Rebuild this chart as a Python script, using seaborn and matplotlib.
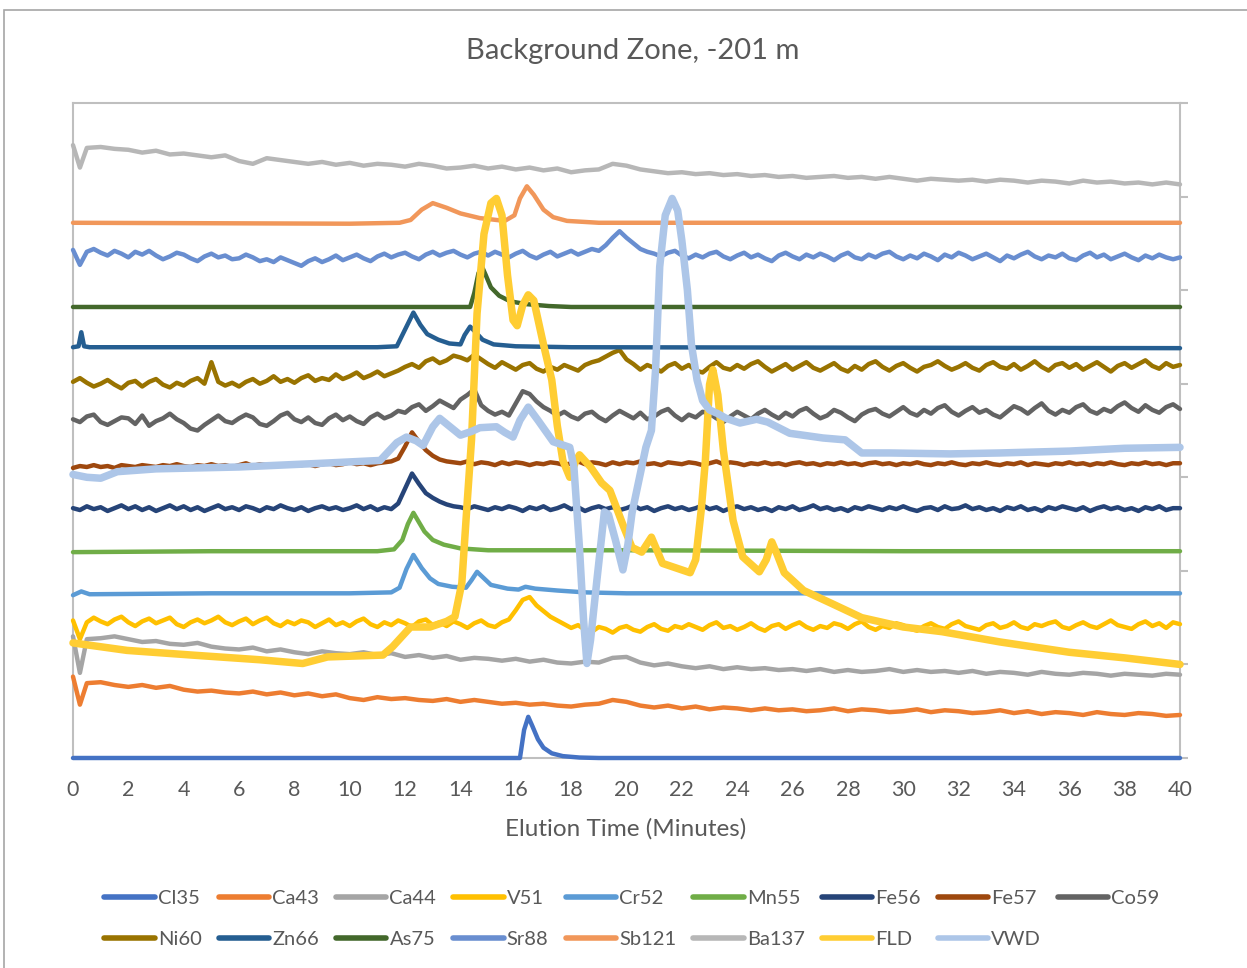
import numpy as np
import pandas as pd
import matplotlib
matplotlib.use("Agg")
import matplotlib.pyplot as plt
from matplotlib.lines import Line2D
from matplotlib.patches import Rectangle
import seaborn as sns

# ---------------------------------------------------------------------------
# Elution time grids (minutes)
# ---------------------------------------------------------------------------
T_Q = np.arange(0, 40.001, 0.25)                                  # 161 samples
T_H = np.concatenate([[0.0, 0.25], np.arange(0.5, 40.001, 0.5)])  # 82 samples

# ---------------------------------------------------------------------------
# Stacked detector signals (offset units)
# ---------------------------------------------------------------------------
CL35_T = [0, 16.15, 16.3, 16.45, 16.6, 16.8, 17.0, 17.3, 17.7, 18.3, 19.0, 40]
CL35 = [0, 0, 0.30, 0.44, 0.34, 0.20, 0.11, 0.05, 0.02, 0.005, 0, 0]

CA43 = [0.87, 0.57, 0.80,
        0.81, 0.78, 0.76, 0.78, 0.75, 0.77, 0.73, 0.71, 0.72, 0.70,
        0.69, 0.71, 0.68, 0.70, 0.67, 0.69, 0.66, 0.68, 0.64, 0.62,
        0.65, 0.63, 0.64, 0.62, 0.61, 0.63, 0.60, 0.62, 0.60, 0.58,
        0.59, 0.57, 0.58, 0.56, 0.55, 0.57, 0.58, 0.62, 0.60, 0.56,
        0.54, 0.56, 0.53, 0.55, 0.52, 0.54, 0.53, 0.51, 0.53, 0.51,
        0.52, 0.50, 0.51, 0.53, 0.50, 0.52, 0.51, 0.49, 0.50, 0.52,
        0.49, 0.51, 0.50, 0.48, 0.49, 0.51, 0.48, 0.50, 0.47, 0.49,
        0.48, 0.46, 0.49, 0.47, 0.46, 0.48, 0.47, 0.45, 0.46]

CA44 = [1.30, 0.91, 1.27,
        1.28, 1.30, 1.27, 1.24, 1.25, 1.22, 1.21, 1.23, 1.19, 1.17,
        1.16, 1.18, 1.14, 1.16, 1.13, 1.11, 1.14, 1.12, 1.11, 1.13,
        1.10, 1.12, 1.08, 1.10, 1.07, 1.09, 1.05, 1.07, 1.06, 1.04,
        1.06, 1.03, 1.05, 1.02, 1.01, 1.03, 1.02, 1.07, 1.08, 1.02,
        0.99, 1.01, 0.98, 0.96, 0.98, 0.95, 0.97, 0.95, 0.96, 0.94,
        0.95, 0.93, 0.95, 0.92, 0.94, 0.92, 0.93, 0.95, 0.92, 0.94,
        0.92, 0.93, 0.91, 0.93, 0.90, 0.92, 0.91, 0.89, 0.92, 0.90,
        0.89, 0.91, 0.90, 0.88, 0.90, 0.89, 0.88, 0.90, 0.89]

V51 = [1.47, 1.27, 1.45, 1.50, 1.46, 1.43, 1.48, 1.51, 1.45, 1.41, 1.46, 1.49,
       1.44, 1.47, 1.50, 1.43, 1.40, 1.45, 1.48, 1.44, 1.47, 1.51, 1.45, 1.42,
       1.46, 1.49, 1.43, 1.47, 1.50, 1.44, 1.41, 1.46, 1.43, 1.47, 1.45, 1.40,
       1.44, 1.48, 1.42, 1.45, 1.41, 1.46, 1.49, 1.43, 1.40, 1.45, 1.42, 1.47,
       1.44, 1.40, 1.46, 1.48, 1.42, 1.45, 1.41, 1.46, 1.43, 1.39, 1.44, 1.47,
       1.42, 1.40, 1.45, 1.48, 1.58, 1.69, 1.72, 1.63, 1.57, 1.51, 1.47, 1.43,
       1.39, 1.42, 1.37, 1.35, 1.40, 1.38, 1.34, 1.39, 1.41, 1.37, 1.35, 1.40,
       1.43, 1.38, 1.36, 1.41, 1.39, 1.43, 1.40, 1.37, 1.42, 1.45, 1.39, 1.41,
       1.37, 1.40, 1.44, 1.39, 1.36, 1.41, 1.43, 1.38, 1.42, 1.45, 1.40, 1.37,
       1.41, 1.39, 1.44, 1.42, 1.38, 1.43, 1.46, 1.40, 1.37, 1.41, 1.39, 1.44,
       1.42, 1.38, 1.36, 1.41, 1.44, 1.40, 1.38, 1.43, 1.46, 1.41, 1.39, 1.37,
       1.42, 1.44, 1.39, 1.41, 1.45, 1.40, 1.38, 1.43, 1.41, 1.44, 1.46, 1.40,
       1.38, 1.42, 1.45, 1.41, 1.39, 1.43, 1.47, 1.42, 1.40, 1.38, 1.43, 1.46,
       1.41, 1.44, 1.39, 1.45, 1.43]

CR52_T = [0, 0.3, 0.6, 5, 10, 11.5, 11.8, 12.05, 12.3, 12.6, 12.9, 13.2, 13.7,
          14.2, 14.4, 14.6, 14.85, 15.1, 15.7, 16.1, 16.35, 16.7, 17.5, 18.5,
          20, 30, 40]
CR52 = [1.74, 1.78, 1.75, 1.76, 1.76, 1.77, 1.82, 2.02, 2.17, 2.03, 1.92, 1.86,
        1.83, 1.82, 1.90, 1.99, 1.92, 1.85, 1.81, 1.80, 1.83, 1.81, 1.79, 1.77,
        1.76, 1.76, 1.76]

MN55_T = [0, 5, 11, 11.6, 11.9, 12.1, 12.3, 12.5, 12.7, 13.0, 13.4, 14.0, 15,
          20, 30, 40]
MN55 = [2.20, 2.21, 2.21, 2.23, 2.33, 2.50, 2.62, 2.52, 2.42, 2.33, 2.28, 2.24,
        2.22, 2.22, 2.21, 2.21]

FE56 = [2.67, 2.65, 2.69, 2.66, 2.68, 2.64, 2.67, 2.70, 2.66, 2.69, 2.65, 2.68,
        2.64, 2.67, 2.70, 2.66, 2.69, 2.65, 2.68, 2.64, 2.67, 2.70, 2.66, 2.68,
        2.65, 2.69, 2.67, 2.64, 2.68, 2.66, 2.70, 2.67, 2.65, 2.68, 2.64, 2.67,
        2.69, 2.66, 2.68, 2.65, 2.67, 2.70, 2.66, 2.69, 2.65, 2.68, 2.66, 2.72,
        2.88, 3.04, 2.93, 2.83, 2.78, 2.74, 2.71, 2.69, 2.68, 2.66, 2.69, 2.67,
        2.65, 2.68, 2.66, 2.69, 2.67, 2.64, 2.68, 2.66, 2.69, 2.65, 2.67, 2.70,
        2.66, 2.68, 2.64, 2.67, 2.69, 2.66, 2.68, 2.65, 2.67, 2.70, 2.66, 2.68,
        2.64, 2.67, 2.69, 2.66, 2.68, 2.65, 2.67, 2.70, 2.66, 2.68, 2.64, 2.67,
        2.69, 2.66, 2.68, 2.65, 2.67, 2.64, 2.68, 2.66, 2.69, 2.65, 2.67, 2.70,
        2.66, 2.68, 2.65, 2.67, 2.64, 2.68, 2.66, 2.69, 2.67, 2.65, 2.68, 2.66,
        2.69, 2.66, 2.64, 2.67, 2.68, 2.65, 2.69, 2.66, 2.67, 2.70, 2.66, 2.68,
        2.65, 2.67, 2.64, 2.68, 2.66, 2.69, 2.65, 2.67, 2.64, 2.68, 2.66, 2.69,
        2.67, 2.65, 2.68, 2.64, 2.67, 2.69, 2.66, 2.68, 2.65, 2.67, 2.64, 2.68,
        2.66, 2.69, 2.65, 2.67, 2.67]

FE57 = [3.10, 3.12, 3.11, 3.13, 3.11, 3.12, 3.10, 3.13, 3.12, 3.11, 3.13, 3.12,
        3.11, 3.13, 3.12, 3.14, 3.12, 3.11, 3.13, 3.12, 3.14, 3.12, 3.13, 3.11,
        3.13, 3.15, 3.12, 3.14, 3.13, 3.12, 3.14, 3.13, 3.15, 3.13, 3.14, 3.12,
        3.14, 3.15, 3.13, 3.14, 3.16, 3.14, 3.15, 3.13, 3.15, 3.16, 3.17, 3.20,
        3.33, 3.48, 3.38, 3.29, 3.23, 3.19, 3.17, 3.16, 3.15, 3.17, 3.14, 3.16,
        3.15, 3.13, 3.16, 3.14, 3.16, 3.15, 3.13, 3.15, 3.14, 3.16, 3.15, 3.13,
        3.15, 3.17, 3.14, 3.16, 3.15, 3.13, 3.16, 3.14, 3.16, 3.15, 3.17, 3.14,
        3.15, 3.13, 3.16, 3.15, 3.14, 3.16, 3.15, 3.13, 3.15, 3.17, 3.14, 3.16,
        3.15, 3.13, 3.15, 3.14, 3.16, 3.14, 3.15, 3.13, 3.15, 3.16, 3.14, 3.15,
        3.13, 3.15, 3.14, 3.16, 3.14, 3.15, 3.13, 3.15, 3.16, 3.14, 3.15, 3.13,
        3.15, 3.14, 3.16, 3.14, 3.13, 3.15, 3.14, 3.16, 3.14, 3.13, 3.15, 3.14,
        3.16, 3.14, 3.13, 3.15, 3.14, 3.16, 3.13, 3.15, 3.14, 3.13, 3.15, 3.14,
        3.16, 3.14, 3.15, 3.13, 3.15, 3.14, 3.16, 3.14, 3.13, 3.15, 3.14, 3.16,
        3.14, 3.15, 3.13, 3.15, 3.15]

CO59 = [3.62, 3.59, 3.65, 3.67, 3.59, 3.56, 3.60, 3.64, 3.63, 3.57, 3.66, 3.55,
        3.60, 3.63, 3.68, 3.62, 3.58, 3.52, 3.50, 3.56, 3.61, 3.66, 3.60, 3.58,
        3.63, 3.67, 3.64, 3.57, 3.55, 3.60, 3.66, 3.69, 3.62, 3.59, 3.64, 3.58,
        3.56, 3.63, 3.67, 3.61, 3.65, 3.60, 3.57, 3.64, 3.68, 3.63, 3.66, 3.71,
        3.69, 3.75, 3.78, 3.71, 3.76, 3.82, 3.78, 3.74, 3.83, 3.88, 3.94, 3.77,
        3.71, 3.67, 3.70, 3.66, 3.79, 3.92, 3.89, 3.81, 3.75, 3.71, 3.66, 3.70,
        3.65, 3.62, 3.68, 3.70, 3.64, 3.60, 3.66, 3.71, 3.67, 3.63, 3.69, 3.62,
        3.65, 3.70, 3.73, 3.66, 3.61, 3.67, 3.64, 3.70, 3.68, 3.63, 3.59, 3.65,
        3.70, 3.66, 3.62, 3.68, 3.72, 3.67, 3.63, 3.69, 3.65, 3.71, 3.74, 3.68,
        3.63, 3.66, 3.72, 3.69, 3.64, 3.60, 3.67, 3.71, 3.73, 3.68, 3.65, 3.70,
        3.75, 3.69, 3.66, 3.72, 3.68, 3.74, 3.77, 3.70, 3.66, 3.71, 3.75, 3.69,
        3.72, 3.67, 3.64, 3.70, 3.76, 3.73, 3.68, 3.74, 3.79, 3.71, 3.67, 3.72,
        3.69, 3.75, 3.78, 3.71, 3.68, 3.73, 3.70, 3.76, 3.80, 3.74, 3.70, 3.77,
        3.72, 3.69, 3.75, 3.78, 3.73]

NI60 = [4.02, 4.06, 4.01, 3.97, 4.00, 4.04, 3.99, 3.95, 4.01, 4.03, 3.97, 4.02,
        4.05, 3.99, 3.96, 4.01, 3.98, 4.03, 4.06, 4.00, 4.23, 4.02, 3.98, 4.01,
        3.97, 4.02, 4.05, 4.00, 4.03, 4.08, 4.02, 4.05, 4.01, 4.06, 4.09, 4.03,
        4.06, 4.04, 4.10, 4.05, 4.08, 4.12, 4.06, 4.09, 4.13, 4.08, 4.11, 4.14,
        4.18, 4.21, 4.17, 4.24, 4.27, 4.22, 4.25, 4.30, 4.28, 4.25, 4.31, 4.26,
        4.21, 4.17, 4.23, 4.19, 4.15, 4.20, 4.22, 4.16, 4.13, 4.18, 4.15, 4.20,
        4.17, 4.14, 4.20, 4.23, 4.25, 4.29, 4.33, 4.36, 4.26, 4.21, 4.15, 4.20,
        4.17, 4.13, 4.19, 4.22, 4.16, 4.20, 4.14, 4.12, 4.18, 4.23, 4.17, 4.15,
        4.20, 4.16, 4.21, 4.24, 4.18, 4.13, 4.17, 4.21, 4.15, 4.19, 4.23, 4.17,
        4.14, 4.18, 4.22, 4.16, 4.13, 4.19, 4.15, 4.21, 4.24, 4.18, 4.14, 4.19,
        4.22, 4.17, 4.13, 4.18, 4.20, 4.24, 4.19, 4.15, 4.18, 4.22, 4.17, 4.14,
        4.20, 4.23, 4.18, 4.16, 4.21, 4.15, 4.19, 4.24, 4.18, 4.14, 4.20, 4.22,
        4.17, 4.21, 4.15, 4.19, 4.23, 4.18, 4.13, 4.19, 4.22, 4.17, 4.21, 4.25,
        4.19, 4.16, 4.22, 4.18, 4.20]

ZN66_T = [0, 0.2, 0.3, 0.4, 0.6, 5, 11, 11.7, 12.0, 12.3, 12.55, 12.8, 13.2,
          13.6, 14.0, 14.15, 14.35, 14.55, 14.8, 15.2, 16, 18, 40]
ZN66 = [4.39, 4.40, 4.55, 4.40, 4.39, 4.39, 4.39, 4.40, 4.58, 4.76, 4.63, 4.53,
        4.47, 4.43, 4.42, 4.52, 4.61, 4.55, 4.47, 4.42, 4.40, 4.39, 4.38]

AS75_T = [0, 14.35, 14.5, 14.65, 14.78, 14.9, 15.1, 15.4, 15.8, 16.4, 17.2,
          18, 40]
AS75 = [4.82, 4.82, 4.97, 5.18, 5.25, 5.17, 5.03, 4.94, 4.88, 4.85, 4.83,
        4.82, 4.82]

SR88 = [5.43, 5.27, 5.41, 5.44, 5.40, 5.37, 5.42, 5.39, 5.35, 5.41, 5.38, 5.42,
        5.37, 5.33, 5.36, 5.40, 5.38, 5.34, 5.31, 5.36, 5.39, 5.35, 5.37, 5.33,
        5.34, 5.38, 5.35, 5.31, 5.33, 5.30, 5.35, 5.32, 5.29, 5.26, 5.31, 5.34,
        5.30, 5.33, 5.37, 5.32, 5.35, 5.38, 5.34, 5.31, 5.36, 5.39, 5.35, 5.38,
        5.40, 5.36, 5.33, 5.38, 5.41, 5.37, 5.40, 5.42, 5.38, 5.35, 5.39, 5.41,
        5.37, 5.41, 5.38, 5.35, 5.39, 5.42, 5.37, 5.34, 5.38, 5.41, 5.36, 5.39,
        5.42, 5.38, 5.41, 5.44, 5.42, 5.48, 5.56, 5.63, 5.56, 5.50, 5.44, 5.41,
        5.39, 5.36, 5.40, 5.42, 5.37, 5.34, 5.38, 5.35, 5.39, 5.41, 5.36, 5.33,
        5.37, 5.40, 5.35, 5.38, 5.34, 5.31, 5.37, 5.40, 5.36, 5.33, 5.38, 5.35,
        5.39, 5.36, 5.32, 5.37, 5.40, 5.35, 5.33, 5.38, 5.35, 5.39, 5.41, 5.36,
        5.33, 5.37, 5.34, 5.39, 5.36, 5.32, 5.38, 5.35, 5.40, 5.37, 5.33, 5.36,
        5.39, 5.35, 5.31, 5.37, 5.34, 5.38, 5.41, 5.36, 5.33, 5.37, 5.35, 5.39,
        5.34, 5.32, 5.37, 5.40, 5.35, 5.38, 5.33, 5.36, 5.39, 5.35, 5.32, 5.37,
        5.34, 5.38, 5.35, 5.33, 5.35]

SB121_T = [0, 10, 11.8, 12.2, 12.6, 13.0, 13.5, 14.0, 14.7, 15.6, 15.95, 16.15,
           16.4, 16.65, 17.0, 17.35, 17.85, 19, 40]
SB121 = [5.72, 5.71, 5.72, 5.75, 5.86, 5.93, 5.88, 5.82, 5.77, 5.74, 5.80,
         5.98, 6.11, 6.02, 5.86, 5.78, 5.74, 5.72, 5.72]

BA137 = [6.55, 6.31, 6.52,
         6.53, 6.51, 6.50, 6.47, 6.49, 6.45, 6.46, 6.44, 6.42, 6.44,
         6.38, 6.35, 6.41, 6.39, 6.37, 6.35, 6.37, 6.34, 6.36, 6.33,
         6.35, 6.34, 6.32, 6.35, 6.33, 6.30, 6.31, 6.33, 6.30, 6.32,
         6.29, 6.31, 6.28, 6.30, 6.26, 6.28, 6.29, 6.35, 6.33, 6.29,
         6.27, 6.25, 6.26, 6.24, 6.25, 6.23, 6.24, 6.22, 6.23, 6.21,
         6.22, 6.20, 6.21, 6.22, 6.20, 6.21, 6.19, 6.21, 6.19, 6.17,
         6.19, 6.18, 6.17, 6.18, 6.16, 6.18, 6.17, 6.15, 6.17, 6.16,
         6.14, 6.17, 6.15, 6.16, 6.14, 6.15, 6.13, 6.15, 6.13]

FLD_T = [0, 1.95, 4.3, 6.75, 8.3, 9.2, 11.2, 11.55, 12.2, 12.9, 13.5, 13.8,
         14.05, 14.25, 14.4, 14.6, 14.85, 15.1, 15.3, 15.5, 15.7, 15.9, 16.05,
         16.25, 16.45, 16.65, 17.0, 17.3, 17.5, 17.7, 17.95, 18.15, 18.3, 18.7,
         19.1, 19.4, 19.9, 20.2, 20.55, 20.9, 21.3, 21.9, 22.3, 22.5, 22.7,
         22.85, 23.0, 23.12, 23.3, 23.5, 23.85, 24.2, 24.8, 25.05, 25.25, 25.45,
         25.7, 26.4, 27.35, 28.5, 30.0, 31.4, 33.5, 36, 38, 40]
FLD = [1.23, 1.15, 1.10, 1.05, 1.01, 1.08, 1.10, 1.19, 1.40, 1.40, 1.46, 1.51,
       1.87, 2.76, 3.40, 4.75, 5.60, 5.93, 5.98, 5.80, 5.16, 4.68, 4.62, 4.84,
       4.95, 4.89, 4.42, 4.04, 3.55, 3.18, 3.00, 3.16, 3.24, 3.11, 2.94, 2.86,
       2.47, 2.25, 2.20, 2.36, 2.08, 2.02, 1.98, 2.12, 2.65, 3.18, 3.99, 4.15,
       3.88, 3.29, 2.54, 2.15, 1.99, 2.12, 2.31, 2.17, 1.98, 1.79, 1.66, 1.50,
       1.40, 1.35, 1.24, 1.13, 1.07, 1.00]

VWD_T = [0, 0.5, 1.0, 1.6, 3, 6, 9, 11.1, 11.7, 12.05, 12.4, 12.65, 13.0,
         13.25, 13.5, 14.0, 14.4, 14.7, 15.3, 15.6, 15.9, 16.15, 16.45, 16.8,
         17.35, 17.95, 18.1, 18.3, 18.45, 18.57, 18.7, 18.93, 19.2, 19.35, 19.6,
         19.87, 20.05, 20.2, 20.7, 20.9, 21.05, 21.2, 21.4, 21.65, 21.85, 22.0,
         22.2, 22.35, 22.55, 22.75, 23.0, 23.3, 23.6, 24.1, 24.7, 25.1, 25.9,
         27.1, 27.9, 28.2, 28.5, 29.5, 31.7, 33.5, 36, 38, 40]
VWD = [3.03, 3.00, 2.99, 3.06, 3.09, 3.11, 3.15, 3.18, 3.37, 3.43, 3.39, 3.34,
       3.54, 3.63, 3.57, 3.45, 3.49, 3.53, 3.54, 3.48, 3.43, 3.61, 3.75, 3.61,
       3.38, 3.32, 3.11, 2.25, 1.47, 1.01, 1.26, 1.90, 2.63, 2.60, 2.33, 2.01,
       2.28, 2.62, 3.32, 3.50, 4.15, 5.25, 5.80, 5.98, 5.85, 5.53, 5.00, 4.41,
       4.04, 3.82, 3.72, 3.68, 3.63, 3.58, 3.62, 3.59, 3.47, 3.42, 3.40, 3.33,
       3.26, 3.26, 3.25, 3.26, 3.28, 3.31, 3.32]

NAMES = ["Cl35", "Ca43", "Ca44", "V51", "Cr52", "Mn55", "Fe56", "Fe57", "Co59",
         "Ni60", "Zn66", "As75", "Sr88", "Sb121", "Ba137", "FLD", "VWD"]

SERIES = [
    ("Cl35", CL35_T, CL35), ("Ca43", T_H, CA43), ("Ca44", T_H, CA44),
    ("V51", T_Q, V51), ("Cr52", CR52_T, CR52), ("Mn55", MN55_T, MN55),
    ("Fe56", T_Q, FE56), ("Fe57", T_Q, FE57), ("Co59", T_Q, CO59),
    ("Ni60", T_Q, NI60), ("Zn66", ZN66_T, ZN66), ("As75", AS75_T, AS75),
    ("Sr88", T_Q, SR88), ("Sb121", SB121_T, SB121), ("Ba137", T_H, BA137),
    ("FLD", FLD_T, FLD), ("VWD", VWD_T, VWD),
]

COLORS = {
    "Cl35": "#4472C4", "Ca43": "#ED7D31", "Ca44": "#A5A5A5", "V51": "#FFC000",
    "Cr52": "#5B9BD5", "Mn55": "#70AD47", "Fe56": "#264478", "Fe57": "#9E480E",
    "Co59": "#636363", "Ni60": "#997300", "Zn66": "#255E91", "As75": "#43682B",
    "Sr88": "#698ED0", "Sb121": "#F1975A", "Ba137": "#B7B7B7", "FLD": "#FFCD33",
    "VWD": "#ADC6E8",
}
WIDTHS = {n: 3.2 for n in NAMES}
WIDTHS["FLD"] = 5.4
WIDTHS["VWD"] = 5.4

# ---------------------------------------------------------------------------
# Figure
# ---------------------------------------------------------------------------
sns.set_theme(style="white")
plt.rcParams["font.family"] = ["Lato", "DejaVu Sans"]
TXT = "#595959"
AXC = "#BFBFBF"

W, H = 1247, 968
fig = plt.figure(figsize=(W / 100, H / 100), dpi=100)
ax = fig.add_axes([73 / W, 1 - 758 / H, (1180 - 73) / W, (758 - 103) / H])

for name, t, v in SERIES:
    trace = pd.DataFrame({"time": np.asarray(t, float),
                          "signal": np.asarray(v, float)})
    sns.lineplot(data=trace, x="time", y="signal", ax=ax, color=COLORS[name],
                 linewidth=WIDTHS[name], estimator=None, sort=False,
                 solid_joinstyle="round", solid_capstyle="round")
for ln in ax.lines:
    ln.set_clip_on(False)
    ln.set_zorder(3)

ax.set_xlim(0, 40)
ax.set_ylim(0, 7)
ax.set_xticks(np.arange(0, 41, 2))
ax.set_yticks(np.arange(0, 8, 1))
ax.yaxis.tick_right()
ax.tick_params(axis="y", which="both", right=True, left=False, labelright=False,
               labelleft=False, length=6, width=1.5, color=AXC, direction="out")
ax.tick_params(axis="x", length=0, labelsize=15.5, labelcolor=TXT, pad=16)
ax.set_xlabel("")
ax.set_ylabel("")
for side in ["left", "right", "top", "bottom"]:
    ax.spines[side].set_visible(True)
    ax.spines[side].set_color(AXC)
    ax.spines[side].set_linewidth(1.5)
ax.grid(False)

fig.text(633 / W, 1 - 51 / H, "Background Zone, -201 m", ha="center",
         va="center", fontsize=21, color=TXT)
fig.text(626 / W, 1 - 829 / H, "Elution Time (Minutes)", ha="center",
         va="center", fontsize=17.5, color=TXT)

# legend laid out row by row across nine columns
ncol = 9
rows = [NAMES[:ncol], NAMES[ncol:]]
ordered = []
for c in range(ncol):
    for r in rows:
        if c < len(r):
            ordered.append(r[c])
handles = [Line2D([], [], color=COLORS[n], lw=4, solid_capstyle="round")
           for n in ordered]
leg = fig.legend(handles, ordered, loc="center", ncol=ncol,
                 bbox_to_anchor=(632 / W, 1 - 919 / H), frameon=False,
                 fontsize=14.5, handlelength=2.5, handletextpad=0.15,
                 columnspacing=0.85, labelspacing=1.2)
for t in leg.get_texts():
    t.set_color(TXT)

fig.patches.append(Rectangle((4 / W, -0.02), 1.2, 1.02 - 10 / H,
                             transform=fig.transFigure, fill=False,
                             ec="#A6A6A6", lw=1.2))

fig.savefig("out.png", dpi=100, facecolor="white")
